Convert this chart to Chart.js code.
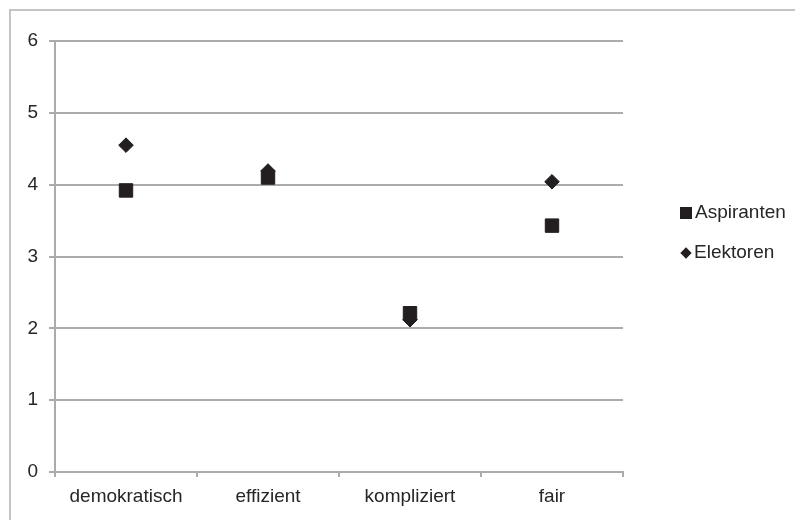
<!DOCTYPE html>
<html>
<head>
<meta charset="utf-8">
<script src="https://cdn.jsdelivr.net/npm/chart.js@4/dist/chart.umd.min.js"></script>
<style>
body { margin: 0; background: #fff; }
#wrap { position: relative; width: 795px; height: 520px; overflow: hidden; }
#frame { position: absolute; left: 9px; top: 9px; width: 800px; height: 520px; border-left: 2px solid #c4c4c4; border-top: 2px solid #c4c4c4; }
#chart { position: absolute; left: 0; top: 0; }
.leg { position: absolute; left: 680px; font: 19px "Liberation Sans", Arial, sans-serif; color: #262626; white-space: nowrap; }
.leg span { display: inline-block; background: #231f20; vertical-align: middle; }
.sq { width: 12px; height: 12px; margin-right: 3px; }
.dm { width: 8px; height: 8px; transform: rotate(45deg); margin: 0 4px 0 2px; }
</style>
</head>
<body>
<div id="wrap">
  <div id="frame"></div>
  <canvas id="chart" width="795" height="520"></canvas>
  <div class="leg" id="leg0" style="top:201px"><span class="sq"></span>Aspiranten</div>
  <div class="leg" id="leg1" style="top:241px"><span class="dm"></span>Elektoren</div>
</div>
<script>
var categories = ["demokratisch", "effizient", "kompliziert", "fair"];
var aspiranten = [3.92, 4.10, 2.21, 3.43];
var elektoren = [4.55, 4.19, 2.12, 4.04];
var yTicks = [0, 1, 2, 3, 4, 5, 6];

var black = "#231f20";
var grey = "#ababab";
var textColor = "#262626";
var font = { family: "'Liberation Sans', Arial, sans-serif", size: 19 };

var chart = new Chart(document.getElementById("chart"), {
    type: "line",
    data: {
        labels: categories,
        datasets: [{
            label: "Elektoren",
            data: elektoren,
            showLine: false,
            pointStyle: "rectRot",
            pointRadius: 7.3,
            pointHoverRadius: 7.3,
            borderWidth: 1,
            backgroundColor: black,
            borderColor: black
        }, {
            label: "Aspiranten",
            data: aspiranten,
            showLine: false,
            pointStyle: "rect",
            pointRadius: 9.5,
            pointHoverRadius: 9.5,
            borderWidth: 1,
            backgroundColor: black,
            borderColor: black
        }]
    },
    options: {
        responsive: false,
        animation: false,
        devicePixelRatio: 1,
        layout: { padding: { top: 41, right: 172, left: 0, bottom: 0 } },
        plugins: {
            legend: { display: false },
            tooltip: { enabled: false }
        },
        scales: {
            x: {
                type: "category",
                offset: true,
                grid: { offset: true, drawOnChartArea: false, color: grey, lineWidth: 2, tickLength: 5 },
                border: { color: grey, width: 2 },
                ticks: { color: textColor, font: font, padding: 8, maxRotation: 0 },
                afterFit: function(scale) { scale.height = 48; }
            },
            y: {
                min: 0,
                max: 6,
                afterBuildTicks: function(scale) {
                    scale.ticks = yTicks.map(function(v) { return { value: v }; });
                },
                grid: { color: grey, lineWidth: 2, tickLength: 6 },
                border: { color: grey, width: 2 },
                ticks: { color: textColor, font: font, padding: 11 },
                afterFit: function(scale) { scale.width = 55; }
            }
        }
    }
});
</script>
</body>
</html>
